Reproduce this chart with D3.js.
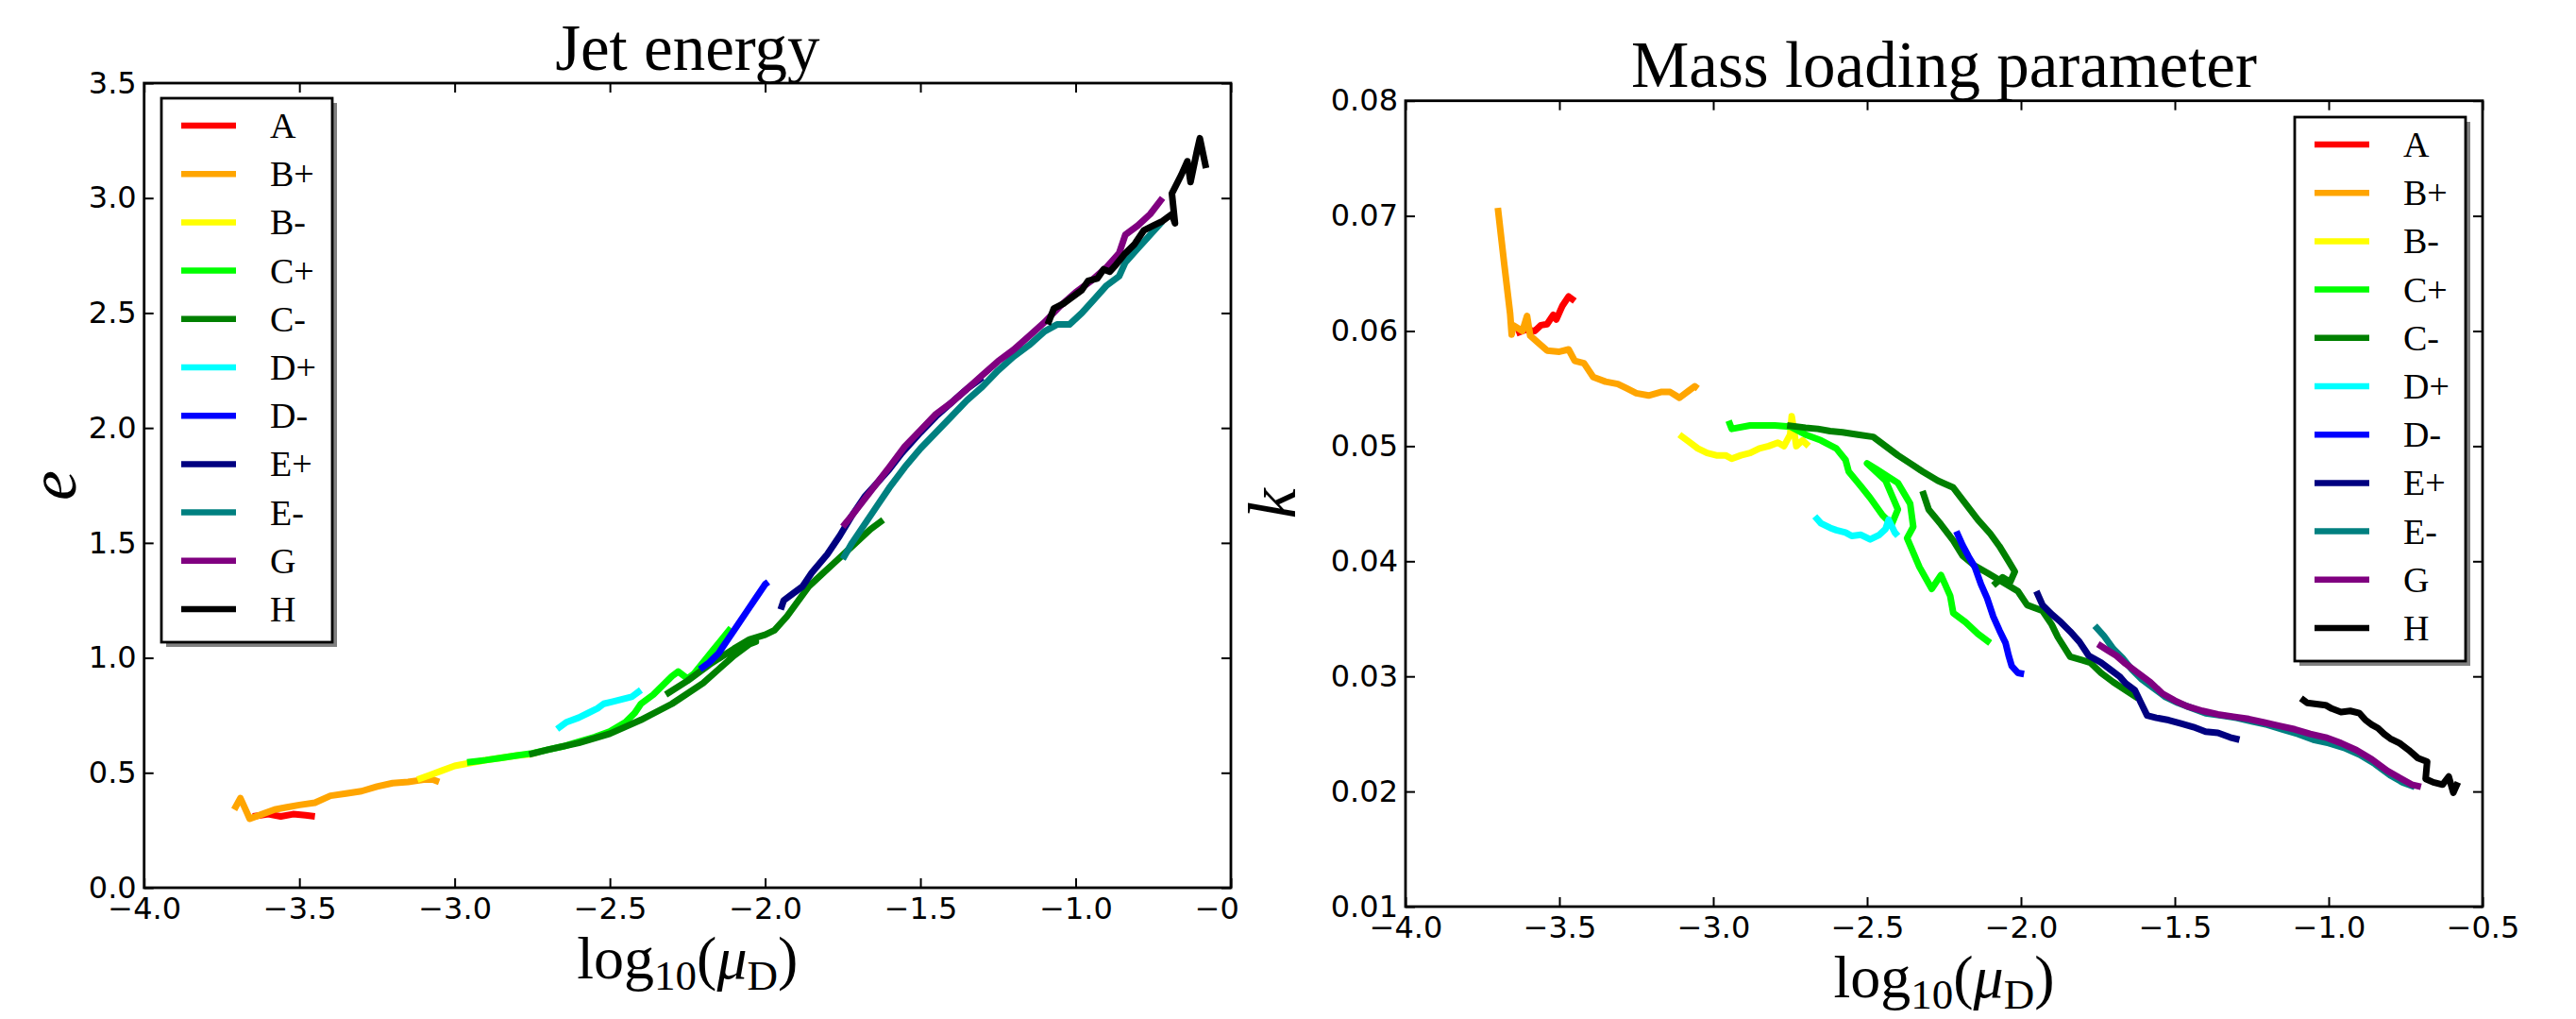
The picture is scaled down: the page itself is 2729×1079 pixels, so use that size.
<!DOCTYPE html>
<html lang="en">
<head>
    <meta charset="UTF-8">
    <title>Jet energy and mass loading parameter</title>
    <script src="https://d3js.org/d3.v7.min.js"></script>
    <style>
        body { margin: 0; background: #fff; }
        svg { display: block; }
        .tick text { font-family: "DejaVu Sans", sans-serif; font-size: 32px; fill: #000; }
        .tick line { stroke: #000; stroke-width: 2; }
    </style>
</head>
<body>
<svg id="fig" width="2729" height="1079"></svg>
<script>
    // series labels and colours (same order in both panels)
    const seriesNames = ["A", "B+", "B-", "C+", "C-", "D+", "D-", "E+", "E-", "G", "H"];
    const seriesColors = ["#ff0000", "#ffa500", "#ffff00", "#00ff00", "#008000", "#00ffff",
                          "#0000ff", "#000080", "#008080", "#800080", "#000000"];

    const xTicks = [-4.0, -3.5, -3.0, -2.5, -2.0, -1.5, -1.0, -0.5];
    const eTicks = [0.0, 0.5, 1.0, 1.5, 2.0, 2.5, 3.0, 3.5];
    const kTicks = [0.01, 0.02, 0.03, 0.04, 0.05, 0.06, 0.07, 0.08];

    // Jet energy: [log10(muD), e]
    const energyA = [[-3.65,0.31],[-3.6,0.32],[-3.56,0.31],[-3.52,0.32],[-3.48,0.315],[-3.45,0.31]];
    const energyBplus = [[-3.71,0.34],[-3.69,0.39],[-3.67,0.33],[-3.66,0.30],[-3.62,0.32],[-3.58,0.34],[-3.54,0.35],
        [-3.5,0.36],[-3.45,0.37],[-3.4,0.40],[-3.35,0.41],[-3.3,0.42],[-3.25,0.44],[-3.2,0.455],[-3.15,0.46],
        [-3.1,0.47],[-3.07,0.47],[-3.05,0.46]];
    const energyBminus = [[-3.12,0.47],[-3.08,0.49],[-3.04,0.51],[-3.0,0.53],[-2.96,0.54],[-2.9,0.555],[-2.85,0.565],
        [-2.8,0.575],[-2.76,0.58],[-2.73,0.59]];
    const energyCplus = [[-2.96,0.545],[-2.9,0.555],[-2.85,0.565],[-2.8,0.575],[-2.75,0.585],[-2.7,0.6],[-2.65,0.615],
        [-2.6,0.635],[-2.55,0.655],[-2.5,0.68],[-2.45,0.72],[-2.42,0.76],[-2.4,0.8],[-2.36,0.84],[-2.33,0.88],
        [-2.3,0.92],[-2.28,0.94],[-2.25,0.91],[-2.23,0.93],[-2.2,0.98],[-2.17,1.03],[-2.14,1.08],[-2.11,1.13]];
    const energyCminus = [[-2.76,0.58],[-2.7,0.6],[-2.6,0.63],[-2.5,0.67],[-2.4,0.73],[-2.3,0.8],[-2.2,0.89],
        [-2.15,0.95],[-2.1,1.01],[-2.05,1.06],[-2.03,1.07],[-2.07,1.05], null,
        [-2.32,0.84],[-2.25,0.9],[-2.18,0.97],[-2.1,1.04],[-2.05,1.08],[-2.0,1.1],[-1.97,1.12],[-1.93,1.18],
        [-1.86,1.31],[-1.82,1.36],[-1.78,1.41],[-1.74,1.46],[-1.7,1.51],[-1.66,1.56],[-1.62,1.6]];
    const energyDplus = [[-2.67,0.69],[-2.64,0.72],[-2.6,0.74],[-2.57,0.76],[-2.54,0.78],[-2.52,0.8],[-2.49,0.81],
        [-2.46,0.82],[-2.43,0.83],[-2.4,0.86]];
    const energyDminus = [[-2.21,0.95],[-2.18,0.98],[-2.15,1.02],[-2.12,1.08],[-2.09,1.14],[-2.06,1.2],[-2.03,1.26],
        [-2.0,1.32],[-1.99,1.33]];
    const energyEplus = [[-1.95,1.21],[-1.94,1.25],[-1.91,1.28],[-1.88,1.31],[-1.85,1.37],[-1.8,1.45],[-1.76,1.53],
        [-1.72,1.62],[-1.68,1.7],[-1.64,1.76],[-1.6,1.82],[-1.56,1.89],[-1.5,1.98],[-1.45,2.05],[-1.4,2.11],
        [-1.35,2.17],[-1.3,2.22]];
    const energyEminus = [[-1.75,1.43],[-1.72,1.5],[-1.68,1.58],[-1.64,1.66],[-1.6,1.74],[-1.55,1.83],[-1.5,1.91],
        [-1.45,1.98],[-1.4,2.05],[-1.35,2.12],[-1.3,2.18],[-1.25,2.25],[-1.2,2.31],[-1.15,2.36],[-1.1,2.42],
        [-1.06,2.45],[-1.02,2.45],[-0.98,2.5],[-0.94,2.56],[-0.9,2.62],[-0.86,2.66],[-0.84,2.72],[-0.8,2.78],
        [-0.76,2.84],[-0.72,2.9]];
    const energyG = [[-1.75,1.57],[-1.72,1.62],[-1.68,1.69],[-1.64,1.76],[-1.6,1.83],[-1.55,1.92],[-1.5,1.99],
        [-1.45,2.06],[-1.4,2.11],[-1.35,2.17],[-1.3,2.23],[-1.25,2.29],[-1.2,2.34],[-1.15,2.4],[-1.1,2.46],
        [-1.05,2.53],[-1.0,2.59],[-0.95,2.64],[-0.9,2.7],[-0.86,2.76],[-0.84,2.84],[-0.8,2.88],[-0.76,2.93],
        [-0.72,3.0]];
    const energyH = [[-1.09,2.45],[-1.07,2.52],[-1.04,2.54],[-1.01,2.57],[-0.98,2.6],[-0.96,2.64],[-0.93,2.65],
        [-0.91,2.69],[-0.89,2.68],[-0.87,2.71],[-0.84,2.76],[-0.81,2.8],[-0.78,2.86],[-0.75,2.88],[-0.72,2.9],
        [-0.69,2.93],[-0.68,2.89],[-0.69,3.02],[-0.66,3.1],[-0.64,3.16],[-0.63,3.07],[-0.61,3.2],[-0.6,3.26],
        [-0.58,3.13]];

    // Mass loading parameter: [log10(muD), k]
    const massA = [[-3.64,0.0598],[-3.61,0.0601],[-3.58,0.0600],[-3.56,0.0605],[-3.54,0.0606],[-3.52,0.0614],
        [-3.51,0.0610],[-3.49,0.0622],[-3.47,0.0630],[-3.45,0.0626]];
    const massBplus = [[-3.70,0.0707],[-3.68,0.0660],[-3.66,0.0615],[-3.655,0.0597],[-3.65,0.0605],[-3.62,0.0600],
        [-3.605,0.0613],[-3.595,0.0596],[-3.57,0.0590],[-3.54,0.0583],[-3.5,0.0582],[-3.47,0.0584],[-3.45,0.0574],
        [-3.42,0.0572],[-3.39,0.0560],[-3.35,0.0556],[-3.31,0.0554],[-3.28,0.0550],[-3.25,0.0546],[-3.21,0.0544],
        [-3.17,0.0547],[-3.14,0.0547],[-3.11,0.0542],[-3.08,0.0548],[-3.06,0.0552],[-3.05,0.0550]];
    const massBminus = [[-3.11,0.0510],[-3.08,0.0504],[-3.05,0.0498],[-3.02,0.0494],[-2.99,0.0492],[-2.96,0.0492],
        [-2.94,0.0489],[-2.91,0.0492],[-2.88,0.0494],[-2.85,0.0498],[-2.82,0.0500],[-2.79,0.0503],[-2.77,0.0500],
        [-2.75,0.0510],[-2.745,0.0526],[-2.73,0.0500],[-2.71,0.0505],[-2.69,0.0500]];
    const massCplus = [[-2.95,0.0522],[-2.94,0.0515],[-2.88,0.0518],[-2.8,0.0518],[-2.75,0.0517],[-2.7,0.0510],
        [-2.65,0.0505],[-2.6,0.0498],[-2.57,0.0488],[-2.56,0.0478],[-2.52,0.0465],[-2.49,0.0455],[-2.45,0.0440],
        [-2.42,0.0432],[-2.40,0.0445],[-2.44,0.0470],[-2.50,0.0485],[-2.47,0.0480],[-2.40,0.0468],[-2.36,0.0450],
        [-2.35,0.0430],[-2.37,0.0420],[-2.33,0.0395],[-2.29,0.0376],[-2.26,0.0388],[-2.23,0.0370],[-2.22,0.0355],
        [-2.18,0.0347],[-2.14,0.0337],[-2.10,0.0329]];
    const massCminus = [[-2.76,0.0518],[-2.7,0.0516],[-2.66,0.0515],[-2.62,0.0513],[-2.58,0.0512],[-2.53,0.0510],
        [-2.48,0.0508],[-2.44,0.0500],[-2.40,0.0492],[-2.36,0.0485],[-2.32,0.0478],[-2.27,0.0470],[-2.22,0.0464],
        [-2.18,0.0450],[-2.14,0.0436],[-2.10,0.0424],[-2.07,0.0413],[-2.04,0.0400],[-2.02,0.0391],[-2.035,0.0382],
        [-2.06,0.0386],[-2.09,0.0379], null,
        [-2.32,0.0461],[-2.30,0.0445],[-2.26,0.0432],[-2.22,0.0418],[-2.19,0.0405],[-2.15,0.0396],[-2.11,0.0390],
        [-2.06,0.0382],[-2.01,0.0374],[-1.98,0.0362],[-1.93,0.0357],[-1.90,0.0345],[-1.88,0.0334],[-1.84,0.0317],
        [-1.80,0.0314],[-1.775,0.0312],[-1.74,0.0303],[-1.70,0.0295],[-1.66,0.0288],[-1.62,0.0281]];
    const massDplus = [[-2.67,0.0439],[-2.65,0.0433],[-2.62,0.0429],[-2.6,0.0427],[-2.57,0.0425],[-2.55,0.0422],
        [-2.52,0.0423],[-2.49,0.0419],[-2.46,0.0423],[-2.44,0.0428],[-2.43,0.0436],[-2.41,0.0425],[-2.40,0.0422]];
    const massDminus = [[-2.21,0.0426],[-2.19,0.0414],[-2.17,0.0404],[-2.15,0.0395],[-2.13,0.0380],[-2.11,0.0368],
        [-2.09,0.0352],[-2.07,0.0340],[-2.05,0.0329],[-2.04,0.0318],[-2.03,0.0309],[-2.01,0.0303],[-1.99,0.0302]];
    const massEplus = [[-1.95,0.0374],[-1.93,0.0362],[-1.9,0.0354],[-1.87,0.0347],[-1.84,0.0339],[-1.81,0.0330],
        [-1.78,0.0318],[-1.74,0.0312],[-1.71,0.0306],[-1.68,0.0300],[-1.66,0.0294],[-1.63,0.0288],[-1.61,0.0277],
        [-1.59,0.0266],[-1.56,0.0264],[-1.52,0.0262],[-1.48,0.0259],[-1.44,0.0256],[-1.40,0.0252],[-1.36,0.0251],
        [-1.32,0.0247],[-1.29,0.0245]];
    const massEminus = [[-1.76,0.0344],[-1.73,0.0335],[-1.70,0.0324],[-1.67,0.0316],[-1.64,0.0306],[-1.61,0.0298],
        [-1.57,0.0290],[-1.53,0.0282],[-1.49,0.0277],[-1.45,0.0273],[-1.40,0.0268],[-1.35,0.0266],[-1.30,0.0264],
        [-1.25,0.0261],[-1.20,0.0258],[-1.15,0.0254],[-1.10,0.0250],[-1.05,0.0245],[-1.00,0.0242],[-0.95,0.0238],
        [-0.90,0.0232],[-0.85,0.0224],[-0.80,0.0214],[-0.76,0.0208],[-0.72,0.0204]];
    const massG = [[-1.75,0.0328],[-1.72,0.0323],[-1.69,0.0318],[-1.66,0.0311],[-1.62,0.0303],[-1.58,0.0295],
        [-1.54,0.0285],[-1.50,0.0279],[-1.46,0.0274],[-1.41,0.0270],[-1.36,0.0267],[-1.31,0.0265],[-1.26,0.0263],
        [-1.21,0.0260],[-1.16,0.0257],[-1.11,0.0254],[-1.06,0.0250],[-1.01,0.0247],[-0.96,0.0242],[-0.91,0.0236],
        [-0.86,0.0228],[-0.81,0.0218],[-0.77,0.0212],[-0.73,0.0206],[-0.70,0.0204]];
    const massH = [[-1.09,0.0281],[-1.07,0.0277],[-1.04,0.0276],[-1.01,0.0275],[-0.99,0.0272],[-0.96,0.0269],
        [-0.93,0.0270],[-0.9,0.0268],[-0.88,0.0262],[-0.86,0.0258],[-0.84,0.0255],[-0.82,0.0250],[-0.80,0.0246],
        [-0.77,0.0242],[-0.74,0.0236],[-0.71,0.0229],[-0.68,0.0226],[-0.685,0.0211],[-0.66,0.0208],[-0.63,0.0206],
        [-0.61,0.0213],[-0.595,0.0199],[-0.58,0.0208]];

    const energySeries = [energyA, energyBplus, energyBminus, energyCplus, energyCminus, energyDplus,
                          energyDminus, energyEplus, energyEminus, energyG, energyH];
    const massSeries = [massA, massBplus, massBminus, massCplus, massCminus, massDplus,
                        massDminus, massEplus, massEminus, massG, massH];

    const svg = d3.select("#fig");
    const serif = "'Liberation Serif', 'DejaVu Serif', serif";

    // left panel is cut off at the right edge in the original figure
    svg.append("defs").append("clipPath").attr("id", "leftClip")
       .append("rect").attr("x", 0).attr("y", 0).attr("width", 1314).attr("height", 1079);

    function drawPanel(p) {
        const g = svg.append("g");
        if (p.clip) g.attr("clip-path", "url(#" + p.clip + ")");

        const x = d3.scaleLinear().domain([-4, -0.5]).range([p.left, p.right]);
        const y = d3.scaleLinear().domain(p.yDomain).range([p.bottom, p.top]);

        // data lines
        const line = d3.line()
            .defined(d => d !== null)
            .x(d => x(d[0]))
            .y(d => y(d[1]));
        p.series.forEach((s, i) => {
            g.append("path")
             .datum(s)
             .attr("fill", "none")
             .attr("stroke", seriesColors[i])
             .attr("stroke-width", 7)
             .attr("stroke-linejoin", "round")
             .attr("d", line);
        });

        // axes with inward ticks on all four sides
        const fmtX = d3.format(".1f");
        g.append("g").attr("transform", `translate(0,${p.bottom})`)
         .call(d3.axisBottom(x).tickValues(xTicks).tickFormat(fmtX).tickSizeInner(-10).tickSizeOuter(0).tickPadding(10))
         .call(a => a.select(".domain").remove());
        g.append("g").attr("transform", `translate(0,${p.top})`)
         .call(d3.axisTop(x).tickValues(xTicks).tickFormat("").tickSizeInner(-10).tickSizeOuter(0))
         .call(a => a.select(".domain").remove());
        g.append("g").attr("transform", `translate(${p.left},0)`)
         .call(d3.axisLeft(y).tickValues(p.yTicks).tickFormat(p.yFormat).tickSizeInner(-10).tickSizeOuter(0).tickPadding(8))
         .call(a => a.select(".domain").remove());
        g.append("g").attr("transform", `translate(${p.right},0)`)
         .call(d3.axisRight(y).tickValues(p.yTicks).tickFormat("").tickSizeInner(-10).tickSizeOuter(0))
         .call(a => a.select(".domain").remove());

        g.append("rect")
         .attr("x", p.left).attr("y", p.top)
         .attr("width", p.right - p.left).attr("height", p.bottom - p.top)
         .attr("fill", "none").attr("stroke", "#000").attr("stroke-width", 2.8);

        // title
        g.append("text")
         .attr("x", (p.left + p.right) / 2).attr("y", p.titleY)
         .attr("text-anchor", "middle")
         .attr("font-family", serif).attr("font-size", 69)
         .text(p.title);

        // y label
        g.append("text")
         .attr("transform", `translate(${p.yLabelX},${(p.top + p.bottom) / 2}) rotate(-90)`)
         .attr("text-anchor", "middle")
         .attr("font-family", serif).attr("font-style", "italic").attr("font-size", 72)
         .text(p.yLabel);

        // x label: log10(muD)
        const xl = g.append("text")
         .attr("x", (p.left + p.right) / 2).attr("y", p.bottom + 96)
         .attr("text-anchor", "middle")
         .attr("font-family", serif).attr("font-size", 64);
        xl.append("tspan").text("log");
        xl.append("tspan").attr("font-size", 45).attr("dy", 12).text("10");
        xl.append("tspan").attr("dy", -12).text("(");
        xl.append("tspan").attr("font-style", "italic").text("μ");
        xl.append("tspan").attr("font-size", 45).attr("dy", 12).text("D");
        xl.append("tspan").attr("dy", -12).text(")");

        // legend
        const lg = g.append("g");
        const lx = p.legendX, ly = p.legendY, lw = 181, lh = 576;
        lg.append("rect").attr("x", lx + 5).attr("y", ly + 5).attr("width", lw).attr("height", lh)
          .attr("fill", "#808080");
        lg.append("rect").attr("x", lx).attr("y", ly).attr("width", lw).attr("height", lh)
          .attr("fill", "#fff").attr("stroke", "#000").attr("stroke-width", 2.8);
        seriesNames.forEach((name, i) => {
            const ey = ly + 29 + i * 51.2;
            lg.append("line")
              .attr("x1", lx + 21).attr("x2", lx + 79)
              .attr("y1", ey).attr("y2", ey)
              .attr("stroke", seriesColors[i]).attr("stroke-width", 6.5);
            lg.append("text")
              .attr("x", lx + 115).attr("y", ey + 13)
              .attr("font-family", serif).attr("font-size", 38)
              .text(name);
        });
    }

    drawPanel({
        left: 152.7, right: 1304, top: 88, bottom: 940,
        yDomain: [0, 3.5], yTicks: eTicks, yFormat: d3.format(".1f"),
        series: energySeries, title: "Jet energy", titleY: 74,
        yLabel: "e", yLabelX: 80, legendX: 171, legendY: 104, clip: "leftClip"
    });

    drawPanel({
        left: 1489, right: 2630, top: 106.7, bottom: 960,
        yDomain: [0.01, 0.08], yTicks: kTicks, yFormat: d3.format(".2f"),
        series: massSeries, title: "Mass loading parameter", titleY: 92,
        yLabel: "k", yLabelX: 1372, legendX: 2431, legendY: 124, clip: null
    });
</script>
</body>
</html>
